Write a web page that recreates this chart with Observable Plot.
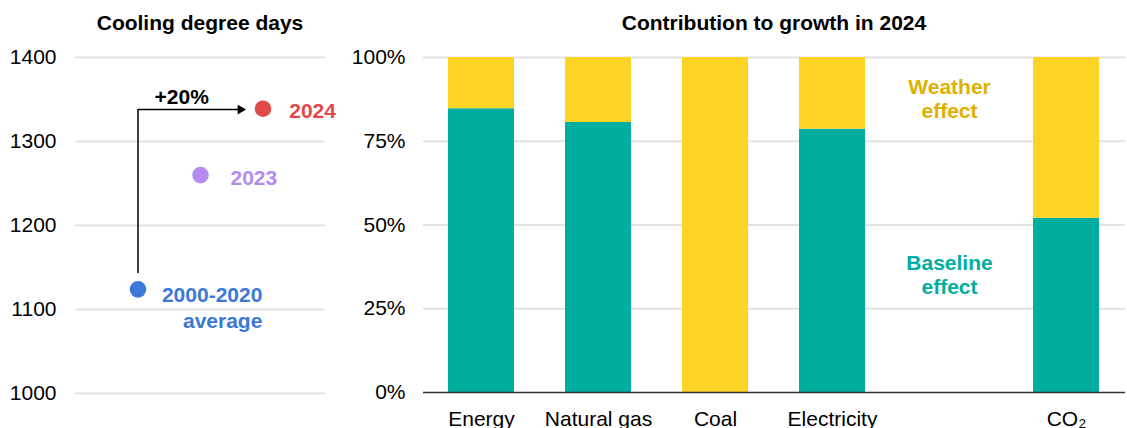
<!DOCTYPE html>
<html>
<head>
<meta charset="utf-8">
<script src="https://cdn.jsdelivr.net/npm/d3@7"></script>
<script src="https://cdn.jsdelivr.net/npm/@observablehq/plot@0.6"></script>
<style>
  html, body { margin: 0; padding: 0; background: #fff; }
  body { width: 1127px; height: 428px; overflow: hidden; font-family: "Liberation Sans", Arial, sans-serif; }
  #wrap { display: flex; flex-direction: row; }
  .col { display: flex; flex-direction: column; }
  .title { height: 40px; line-height: 46px; font-size: 21px; font-weight: bold; color: #000; white-space: nowrap; }
</style>
</head>
<body>
<div id="wrap">
  <div class="col" id="left"><div class="title" style="padding-left:75px;width:250px;text-align:center;">Cooling degree days</div></div>
  <div class="col" id="right"><div class="title" style="padding-left:78px;width:702px;text-align:center;">Contribution to growth in 2024</div></div>
</div>
<script>
// ---- Left panel data: cooling degree days ----
const cddLabels = ["2000-2020\naverage", "2023", "2024"];
const cddPos = [1, 2, 3];
const cddValues = [1124, 1260, 1339];
const cddColors = ["#3B78D8", "#B48CEF", "#E24A4A"];
const cddYTicks = [1000, 1100, 1200, 1300, 1400];
// arrow annotation (+20%)
const arrowX = [1, 1, 2.6];
const arrowY = [1144, 1338, 1338];
const arrowLabel = "+20%";

// ---- Right panel data: contribution to growth in 2024 ----
const categories = ["Energy", "Natural gas", "Coal", "Electricity", " ", "CO₂"];
const baselineShare = [84.7, 80.6, 0, 78.6, null, 52.0];
const weatherShare = [15.3, 19.4, 100, 21.4, null, 48.0];
const pctTicks = [0, 25, 50, 75, 100];

const teal = "#00AEA0";
const yellow = "#FDD326";
const gold = "#E0B000";
const grid = "#E3E3E3";

const font = "Liberation Sans, Arial, sans-serif";

// ---- Left plot ----
const cddRows = cddPos.map((p, i) => ({x: p, y: cddValues[i], label: cddLabels[i], color: cddColors[i]}));
const arrowRows = arrowX.map((x, i) => ({x, y: arrowY[i]}));
const left = Plot.plot({
  width: 345,
  height: 388,
  marginLeft: 75,
  marginRight: 20,
  marginTop: 17,
  marginBottom: 35,
  style: {fontFamily: font, fontSize: "21px", color: "#000", background: "#fff"},
  x: {domain: [0, 4], axis: null},
  y: {domain: [1000, 1400], ticks: cddYTicks, tickSize: 0, tickPadding: 19, label: null, tickFormat: d => String(d)},
  marks: [
    Plot.ruleY(cddYTicks, {stroke: grid, strokeWidth: 2}),
    Plot.line(arrowRows, {x: "x", y: "y", stroke: "#000", strokeWidth: 1.5, curve: "linear"}),
    Plot.dot([arrowRows[2]], {x: d => d.x + 0.04, y: "y", symbol: "triangle2", r: 4.6, fill: "#000", rotate: 90}),
    Plot.text([arrowLabel], {x: [1.7], y: [1353], text: d => d, fontWeight: "bold", fontSize: 21, fill: "#000"}),
    Plot.dot(cddRows, {x: "x", y: "y", r: 8.3, fill: d => d.color, stroke: "none"}),
    Plot.text([cddRows[2]], {x: d => d.x + 0.42, y: d => d.y - 3, text: "label", textAnchor: "start", fontWeight: "bold", fontSize: 21, fill: d => d.color}),
    Plot.text([cddRows[1]], {x: d => d.x + 0.48, y: d => d.y - 4, text: "label", textAnchor: "start", fontWeight: "bold", fontSize: 21, fill: d => d.color}),
    Plot.text([cddRows[0]], {x: d => d.x + 1.99, y: d => d.y - 21, text: "label", textAnchor: "end", lineHeight: 1.2, fontWeight: "bold", fontSize: 21, fill: d => d.color})
  ]
});
document.getElementById("left").appendChild(left);

// ---- Right plot ----
const barRows = [];
categories.forEach((c, i) => {
  if (baselineShare[i] != null) barRows.push({cat: c, effect: "Baseline effect", value: baselineShare[i]});
  if (weatherShare[i] != null) barRows.push({cat: c, effect: "Weather effect", value: weatherShare[i]});
});
const right = Plot.plot({
  width: 782,
  height: 388,
  marginLeft: 78,
  marginRight: 2,
  marginTop: 17,
  marginBottom: 36,
  style: {fontFamily: font, fontSize: "21px", color: "#000", background: "#fff", overflow: "visible"},
  x: {domain: categories, paddingInner: 0.435, paddingOuter: 0.2175, tickSize: 0, tickPadding: 19, label: null, tickFormat: d => d.trim()},
  y: {domain: [0, 100], ticks: pctTicks, tickSize: 0, tickPadding: 18, label: null, tickFormat: d => d + "%"},
  marks: [
    Plot.ruleY(pctTicks.slice(1), {stroke: grid, strokeWidth: 2}),
    Plot.barY(barRows, {x: "cat", y: "value", fill: d => d.effect === "Baseline effect" ? teal : yellow}),
    Plot.ruleY([0], {stroke: "#333", strokeWidth: 1.5}),
    Plot.text(["Weather\neffect"], {x: [" "], y: [87.8], text: d => d, lineHeight: 1.15, fontWeight: "bold", fontSize: 21, fill: gold}),
    Plot.text(["Baseline\neffect"], {x: [" "], y: [35.2], text: d => d, lineHeight: 1.15, fontWeight: "bold", fontSize: 21, fill: teal})
  ]
});
document.getElementById("right").appendChild(right);
</script>
</body>
</html>
